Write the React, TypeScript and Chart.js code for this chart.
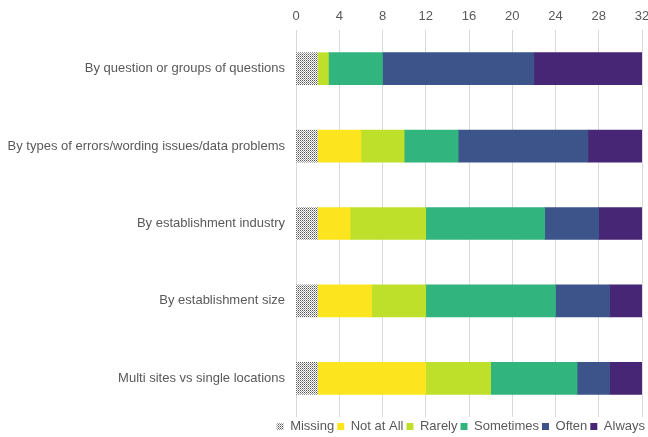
import React, { useEffect, useRef } from "react";
import { Chart, registerables } from "chart.js";

Chart.register(...registerables);

const categories = [
  "By question or groups of questions",
  "By types of errors/wording issues/data problems",
  "By establishment industry",
  "By establishment size",
  "Multi sites vs single locations",
];

const seriesNames = ["Missing", "Not at All", "Rarely", "Sometimes", "Often", "Always"];

const missing = [2, 2, 2, 2, 2];
const notAtAll = [0, 4, 3, 5, 10];
const rarely = [1, 4, 7, 5, 6];
const sometimes = [5, 5, 11, 12, 8];
const often = [14, 12, 5, 5, 3];
const always = [10, 5, 4, 3, 3];

const xTicks = [0, 4, 8, 12, 16, 20, 24, 28, 32];

const colors = ["pattern", "#FCE51E", "#BFE02A", "#32B47F", "#3D548B", "#472675"];

const FONT = "Liberation Sans, Arial, sans-serif";

function makePattern(): CanvasPattern | string {
  const c = document.createElement("canvas");
  c.width = 2;
  c.height = 2;
  const ctx = c.getContext("2d");
  if (!ctx) return "#999";
  ctx.fillStyle = "#ffffff";
  ctx.fillRect(0, 0, 2, 2);
  ctx.fillStyle = "#555555";
  ctx.fillRect(0, 0, 1, 1);
  ctx.fillStyle = "#a0a0a0";
  ctx.fillRect(1, 1, 1, 1);
  const p = document.createElement("canvas").getContext("2d")!.createPattern(c, "repeat");
  return p || "#999";
}

export default function App() {
  const ref = useRef<HTMLCanvasElement | null>(null);

  useEffect(() => {
    if (!ref.current) return;
    const pattern = makePattern();
    const values = [missing, notAtAll, rarely, sometimes, often, always];
    const chart = new Chart(ref.current, {
      type: "bar",
      data: {
        labels: categories,
        datasets: seriesNames.map((name, i) => ({
          label: name,
          data: values[i],
          backgroundColor: i === 0 ? (pattern as any) : colors[i],
          borderWidth: 0,
          barThickness: 32,
        })),
      },
      options: {
        indexAxis: "y",
        animation: false,
        responsive: true,
        maintainAspectRatio: false,
        layout: { padding: { left: 0, right: 0, top: 0, bottom: 0 } },
        scales: {
          x: {
            position: "top",
            stacked: true,
            min: 0,
            max: 32,
            afterBuildTicks: (scale: any) => {
              scale.ticks = xTicks.map((v) => ({ value: v }));
            },
            grid: { color: "#d9d9d9", drawTicks: false },
            border: { display: false },
            ticks: {
              color: "#595959",
              font: { family: FONT, size: 13 },
              padding: 6,
              maxRotation: 0,
            },
            afterFit: (scale: any) => {
              scale.height = 30;
              scale.paddingRight = 6;
              scale.paddingLeft = 0;
            },
          },
          y: {
            stacked: true,
            grid: { display: false, drawTicks: false },
            border: { display: false },
            ticks: {
              color: "#595959",
              font: { family: FONT, size: 13 },
              padding: 11,
            },
            afterFit: (scale: any) => {
              scale.width = 296;
            },
          },
        },
        plugins: {
          legend: {
            position: "bottom",
            align: "end",
            labels: {
              boxWidth: 7,
              boxHeight: 7,
              padding: 3,
              color: "#595959",
              font: { family: FONT, size: 13 },
            },
          },
          tooltip: { enabled: false },
        },
      },
    });
    return () => chart.destroy();
  }, []);

  return (
    <div style={{ position: "absolute", left: 0, top: 0, width: 648, height: 437, overflow: "hidden", background: "#fff" }}>
      <div style={{ position: "relative", width: 648, height: 443 }}>
        <canvas ref={ref} />
      </div>
    </div>
  );
}
